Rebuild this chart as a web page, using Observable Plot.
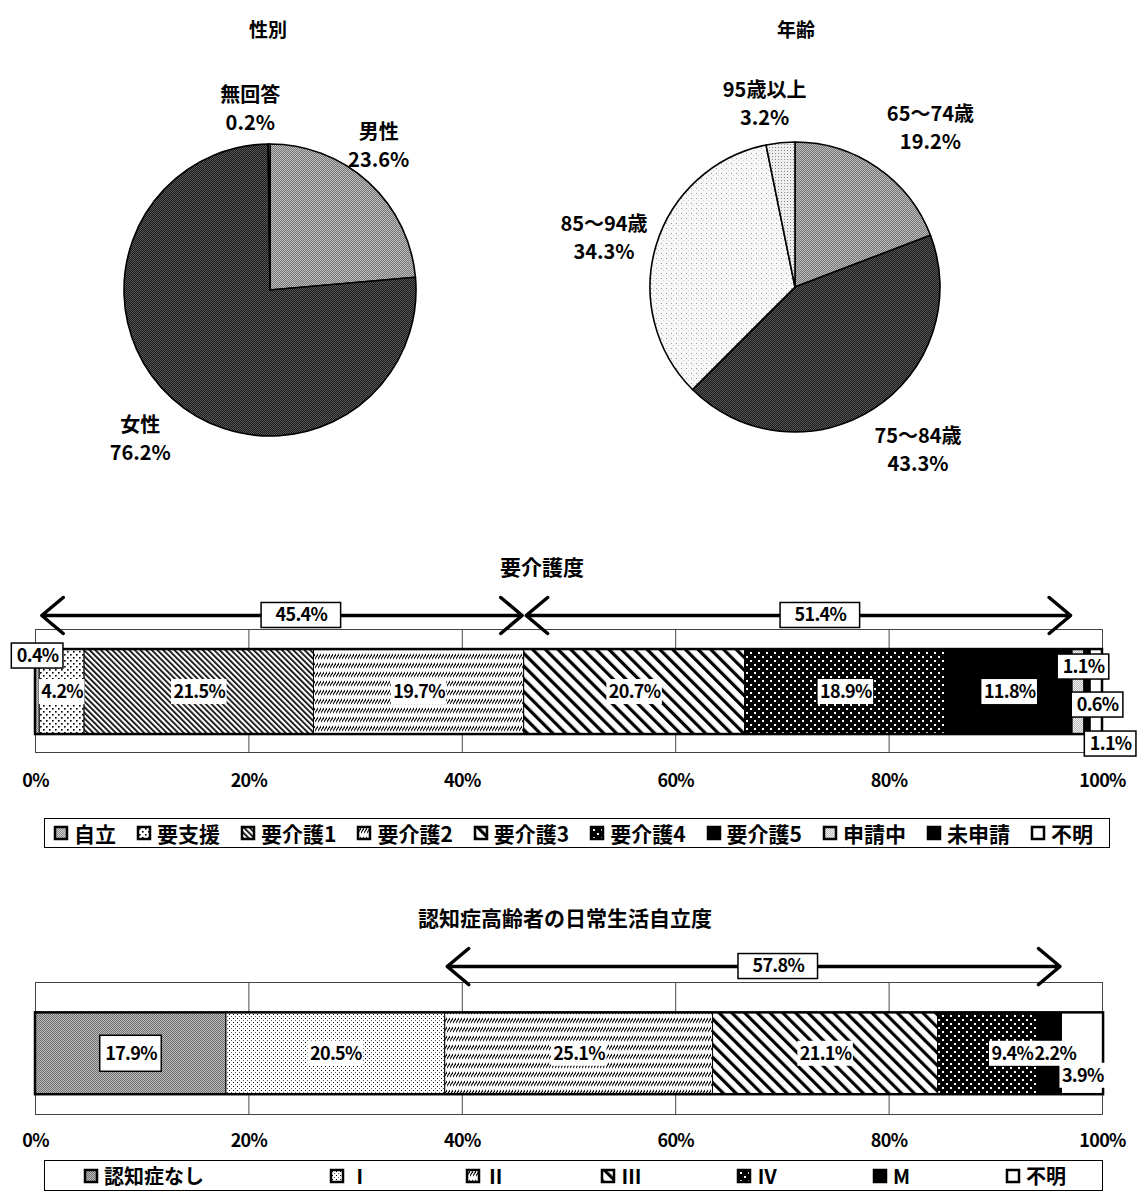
<!DOCTYPE html>
<html lang="ja"><head><meta charset="utf-8">
<script src="https://cdn.jsdelivr.net/npm/d3@7"></script>
<script src="https://cdn.jsdelivr.net/npm/@observablehq/plot@0.6"></script>
<style>
html,body{margin:0;padding:0;background:#fff;}
#page{position:relative;width:1144px;height:1201px;overflow:hidden;font-family:"Noto Sans CJK JP","Noto Sans",sans-serif;color:#000;}
.abs{position:absolute;}
.title{position:absolute;font-weight:bold;white-space:nowrap;transform:translate(-50%,-50%);line-height:1;}
.legbox{position:absolute;border:1px solid #000;overflow:hidden;box-sizing:border-box;display:flex;align-items:center;background:#fff;}
.lg1-swatches,.lg2-swatches{margin:0 !important;min-height:0 !important;flex-wrap:nowrap !important;font-family:"Noto Sans CJK JP",sans-serif !important;font-weight:bold;white-space:nowrap;width:100%;box-sizing:border-box;color:#000;}
.lg1-swatches{font-size:21px !important;padding-left:10px;}
.lg1-swatches .lg1-swatch{margin-right:22px !important;}
.lg1-swatch > svg,.lg2-swatch > svg{margin-right:7px !important;}
.lg2-swatches{font-size:20px !important;justify-content:space-between;padding:0 36px 0 40px;}
.lg2-swatches .lg2-swatch{margin-right:0 !important;}
.lg2-swatches .lg2-swatch:first-of-type{margin-right:30px !important;}
.lg1-swatch svg rect,.lg2-swatch svg rect{stroke:#000;stroke-width:2.5px;}
</style></head>
<body><div id="page"></div>
<script>
// ---------------- data ----------------
const genderCats = ["男性", "女性", "無回答"];
const genderVals = [23.6, 76.2, 0.2];
const ageCats = ["65～74歳", "75～84歳", "85～94歳", "95歳以上"];
const ageVals = [19.2, 43.3, 34.3, 3.2];
const careCats = ["自立", "要支援", "要介護1", "要介護2", "要介護3", "要介護4", "要介護5", "申請中", "未申請", "不明"];
const careVals = [0.4, 4.2, 21.5, 19.7, 20.7, 18.9, 11.8, 1.1, 0.6, 1.1];
const careSpans = [["要支援", "要介護2"], ["要介護3", "要介護5"]];
const dementiaCats = ["認知症なし", "Ⅰ", "Ⅱ", "Ⅲ", "Ⅳ", "M", "不明"];
const dementiaVals = [17.9, 20.5, 25.1, 21.1, 9.4, 2.2, 3.9];
const dementiaSpans = [["Ⅱ", "M"]];
const xTicks = [0, 20, 40, 60, 80, 100];

// ---------------- styles ----------------
const FONT = '"Noto Sans CJK JP","Noto Sans",sans-serif';
const LS = -0.7; // letter spacing for the numeric labels
const genderFills = ["url(#pMale)", "url(#pFemale)", "#fff"];
const ageFills = ["url(#pA1)", "url(#pA2)", "url(#pA3)", "url(#pA4)"];
const careFills = ["url(#pGray)", "url(#pDots)", "url(#pDiagDense)", "url(#pHBand)", "url(#pDiagWide)", "url(#pBlackDots)", "#000", "url(#pLight)", "#000", "#fff"];
const dementiaFills = ["url(#pGrayDark)", "url(#pFineDots)", "url(#pHBand)", "url(#pDiagWide)", "url(#pBlackDots)", "#000", "#fff"];

function checker(id, a, b) {
  return `<pattern id="${id}" width="2" height="2" patternUnits="userSpaceOnUse"><rect width="2" height="2" fill="${a}"/><rect width="1" height="1" fill="${b}"/><rect x="1" y="1" width="1" height="1" fill="${b}"/></pattern>`;
}
const defs = [
  checker("pMale", "#767676", "#bdbdbd"),
  checker("pFemale", "#1c1c1c", "#565656"),
  checker("pA1", "#767676", "#bcbcbc"),
  checker("pA2", "#1c1c1c", "#545454"),
  `<pattern id="pA3" width="5" height="5" patternUnits="userSpaceOnUse"><rect width="5" height="5" fill="#f7f7f7"/><rect x="1" y="1" width="1" height="1" fill="#9a9a9a"/><rect x="3" y="3" width="1" height="1" fill="#cfcfcf"/></pattern>`,
  `<pattern id="pA4" width="3" height="3" patternUnits="userSpaceOnUse"><rect width="3" height="3" fill="#eee"/><rect x="1" y="1" width="1" height="1" fill="#8a8a8a"/></pattern>`,
  checker("pGray", "#8a8a8a", "#d4d4d4"),
  checker("pGrayDark", "#6e6e6e", "#bdbdbd"),
  checker("pLight", "#bcbcbc", "#f0f0f0"),
  `<pattern id="pDots" width="6" height="6" patternUnits="userSpaceOnUse"><rect width="6" height="6" fill="#fff"/><rect x="1" y="1" width="1.6" height="1.6" fill="#000"/><rect x="4" y="4" width="1.6" height="1.6" fill="#000"/></pattern>`,
  `<pattern id="pFineDots" width="4" height="4" patternUnits="userSpaceOnUse"><rect width="4" height="4" fill="#fff"/><rect x="1" y="1" width="1" height="1" fill="#000"/><rect x="3" y="3" width="1" height="1" fill="#555"/></pattern>`,
  `<pattern id="pDiagDense" width="4" height="10" patternUnits="userSpaceOnUse" patternTransform="rotate(-45)"><rect width="4" height="10" fill="#fff"/><rect width="1.7" height="10" fill="#000"/></pattern>`,
  `<pattern id="pHBand" width="3" height="9" patternUnits="userSpaceOnUse"><rect width="3" height="9" fill="#fff"/><path d="M-0.5,6.5 L3.5,0.5" stroke="#000" stroke-width="1.1"/></pattern>`,
  `<pattern id="pDiagWide" width="9" height="10" patternUnits="userSpaceOnUse" patternTransform="rotate(-45)"><rect width="9" height="10" fill="#fff"/><rect width="3.2" height="10" fill="#000"/></pattern>`,
  `<pattern id="pBlackDots" width="8" height="8" patternUnits="userSpaceOnUse"><rect width="8" height="8" fill="#000"/><rect x="2" y="2" width="2" height="2" fill="#fff"/><rect x="6" y="6" width="2" height="2" fill="#fff"/></pattern>`
].join("");
document.body.insertAdjacentHTML("afterbegin", `<svg width="0" height="0" style="position:absolute"><defs>${defs}</defs></svg>`);

const page = document.getElementById("page");
const ctx = document.createElement("canvas").getContext("2d");
function textW(t, size) { ctx.font = `bold ${size}px ${FONT}`; return ctx.measureText(t).width + LS * t.length; }
function place(node, left, top) {
  const d = document.createElement("div"); d.className = "abs";
  d.style.left = left + "px"; d.style.top = top + "px";
  d.appendChild(node); page.appendChild(d); return d;
}
function title(text, cx, cy, size) {
  const d = document.createElement("div"); d.className = "title"; d.textContent = text;
  d.style.left = cx + "px"; d.style.top = cy + "px"; d.style.fontSize = size + "px";
  page.appendChild(d);
}
function legendBox(node, left, top, w, h) {
  const d = document.createElement("div"); d.className = "legbox";
  d.style.left = left + "px"; d.style.top = top + "px"; d.style.width = w + "px"; d.style.height = h + "px";
  d.appendChild(node); page.appendChild(d);
}

// ---------------- pies ----------------
function piePlot(cats, vals, fills, o) {
  const arcs = d3.pie().sort(null).value(d => d)(vals);
  const R = o.r;
  const labels = arcs.map((a, i) => {
    const m = (a.startAngle + a.endAngle) / 2;
    const n = o.nudge[cats[i]] || {};
    return {x: o.k * Math.sin(m) + (n.dx || 0) / R, y: o.k * Math.cos(m) - (n.dy || 0) / R,
      text: `${cats[i]}\n${vals[i].toFixed(1)}%`};
  });
  const slices = (index, scales) => {
    const cx = scales.x(0), cy = scales.y(0), r = scales.x(1) - scales.x(0);
    const g = d3.create("svg:g").attr("transform", `translate(${cx},${cy})`);
    g.selectAll("path").data(arcs).join("path")
      .attr("d", d3.arc().innerRadius(0).outerRadius(r))
      .attr("fill", (d, i) => fills[i])
      .attr("stroke", "#000").attr("stroke-width", 1.6).attr("stroke-linejoin", "round");
    return g.node();
  };
  return Plot.plot({
    width: o.w, height: o.h,
    marginLeft: o.cx - o.r, marginRight: o.w - o.cx - o.r,
    marginTop: o.cy - o.r, marginBottom: o.h - o.cy - o.r,
    x: {domain: [-1, 1], axis: null}, y: {domain: [-1, 1], axis: null},
    style: {fontFamily: FONT, fontWeight: "bold", background: "transparent", overflow: "visible", color: "#000"},
    marks: [
      slices,
      Plot.text(labels, {x: "x", y: "y", text: "text", fontSize: 20, lineHeight: 1.4, fill: "#000", fontWeight: "bold"})
    ]
  });
}

place(piePlot(genderCats, genderVals, genderFills, {w: 540, h: 500, cx: 270, cy: 290, r: 146, k: 1.3,
  nudge: {"男性": {dx: -20, dy: -6}, "無回答": {dx: -19, dy: 6}, "女性": {dx: -3, dy: 6}}}), 0, 0);
place(piePlot(ageCats, ageVals, ageFills, {w: 540, h: 500, cx: 255, cy: 287, r: 145, k: 1.3,
  nudge: {"65～74歳": {dx: 28, dy: -6}, "75～84歳": {dx: 20, dy: 2}, "85～94歳": {dx: -11, dy: 3}, "95歳以上": {dx: -12, dy: 2}}}), 540, 0);
title("性別", 268, 28, 19);
title("年齢", 796, 28, 19);

// ---------------- 100% bars ----------------
function barPlot(cats, vals, fills, spans, o) {
  const ends = d3.cumsum(vals);
  const segs = cats.map((c, i) => ({cat: c, v: vals[i], x1: ends[i] - vals[i], x2: ends[i]}));
  const dom = d3.extent(xTicks);
  const fw = o.w - o.ml - o.mr, fh = o.h - o.mt - o.mb;
  const ux = (dom[1] - dom[0]) / fw, uy = 1 / fh;
  const yc = (o.y1 + o.y2) / 2;
  const labels = segs.map(s => {
    const p = o.place[s.cat] || {};
    const t = s.v.toFixed(1) + "%";
    const w = textW(t, o.fs) + (p.box ? 10 : 4);
    return {t, box: !!p.box,
      x: (s.x1 + s.x2) / 2 + (p.dx || 0) * ux,
      y: yc - (p.dy || 0) * uy,
      hw: (w / 2) * ux, hh: ((p.h || o.boxH) / 2) * uy};
  });
  const spanData = spans.map(([a, b]) => {
    const sa = segs.find(s => s.cat === a), sb = segs.find(s => s.cat === b);
    const x1 = sa.x1, x2 = sb.x2;
    const v = d3.sum(segs.filter(s => s.x1 >= x1 - 1e-9 && s.x2 <= x2 + 1e-9), s => s.v);
    const t = v.toFixed(1) + "%";
    return {x1, x2, xm: x1 + (x2 - x1) * 0.54, t, hw: (textW(t, o.fs) / 2 + 14) * ux};
  });
  const total = d3.sum(vals);
  const ay = o.ay;
  return Plot.plot({
    width: o.w, height: o.h, marginLeft: o.ml, marginRight: o.mr, marginTop: o.mt, marginBottom: o.mb,
    x: {domain: dom, ticks: xTicks, tickFormat: d => d + "%", tickSize: 0, tickPadding: o.tp, label: null},
    y: {domain: [0, 1], axis: null},
    color: {type: "ordinal", domain: cats, range: fills},
    style: {fontFamily: FONT, fontWeight: "bold", fontSize: "18px", letterSpacing: LS + "px", background: "transparent", overflow: "visible", color: "#000"},
    marks: [
      Plot.ruleX(xTicks.slice(1, -1), {stroke: "#333", strokeWidth: 0.9}),
      Plot.frame({stroke: "#444", strokeWidth: 1}),
      Plot.rect(segs, {x1: "x1", x2: "x2", y1: o.y1, y2: o.y2, fill: "cat", stroke: "#000", strokeWidth: 1}),
      Plot.rect([total], {x1: 0, x2: d => d, y1: o.y1, y2: o.y2, fill: "none", stroke: "#000", strokeWidth: 2.5}),
      Plot.arrow(spanData, {x1: "xm", x2: "x1", y1: ay, y2: ay, stroke: "#000", strokeWidth: 3.5, headLength: 12, headAngle: 80, insetEnd: 2}),
      Plot.arrow(spanData, {x1: "xm", x2: "x2", y1: ay, y2: ay, stroke: "#000", strokeWidth: 3.5, headLength: 12, headAngle: 80, insetEnd: 2}),
      Plot.rect(spanData, {x1: d => d.xm - d.hw, x2: d => d.xm + d.hw, y1: ay - 12.5 * uy, y2: ay + 12.5 * uy, fill: "#fff", stroke: "#000", strokeWidth: 1.5}),
      Plot.text(spanData, {x: "xm", y: ay, text: "t", fontSize: o.fs, fontWeight: "bold", fill: "#000"}),
      Plot.rect(labels.filter(d => !d.box), {x1: d => d.x - d.hw, x2: d => d.x + d.hw, y1: d => d.y - d.hh, y2: d => d.y + d.hh, fill: "#fff"}),
      Plot.rect(labels.filter(d => d.box), {x1: d => d.x - d.hw, x2: d => d.x + d.hw, y1: d => d.y - d.hh, y2: d => d.y + d.hh, fill: "#fff", stroke: "#000", strokeWidth: 1.5}),
      Plot.text(labels, {x: "x", y: "y", text: "t", fontSize: o.fs, fontWeight: "bold", fill: "#000"})
    ]
  });
}

const bar1 = barPlot(careCats, careVals, careFills, careSpans, {
  w: 1144, h: 210, ml: 35, mr: 42, mt: 39, mb: 48, tp: 22,
  y1: 0.146, y2: 0.837, ay: 1.114, fs: 18, boxH: 25,
  place: {"自立": {box: true, dy: -36}, "申請中": {box: true, dx: 5, dy: -25}, "未申請": {box: true, dx: 10, dy: 13}, "不明": {box: true, dx: 14, dy: 52}}
});
place(bar1, 0, 590);
title("要介護度", 542, 566, 21);
legendBox(bar1.legend("color", {className: "lg1", swatchSize: 12}), 44, 818, 1066, 30);

const bar2 = barPlot(dementiaCats, dementiaVals, dementiaFills, dementiaSpans, {
  w: 1144, h: 209, ml: 35, mr: 42, mt: 37, mb: 40, tp: 20,
  y1: 0.15, y2: 0.77, ay: 1.121, fs: 18, boxH: 25,
  place: {"認知症なし": {box: true, h: 36}, "Ⅳ": {dx: 24}, "M": {dx: 5}, "不明": {dy: 22}}
});
place(bar2, 0, 945);
title("認知症高齢者の日常生活自立度", 565, 917, 21);
legendBox(bar2.legend("color", {className: "lg2", swatchSize: 12}), 44, 1160, 1059, 31);
</script>
</body></html>
